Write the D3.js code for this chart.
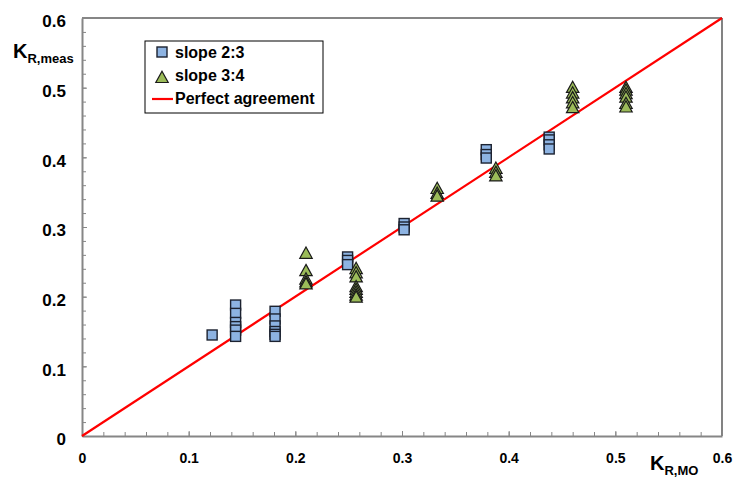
<!DOCTYPE html>
<html>
<head>
<meta charset="utf-8">
<script src="https://cdn.jsdelivr.net/npm/d3@7"></script>
<style>
    body { margin: 0; background: #fff; }
    svg { font-family: "Liberation Sans", Arial, sans-serif; font-weight: bold; }
</style>
</head>
<body>
<svg id="chart"></svg>
<script>
// slope 2:3 (squares)
const slope23X = [0.122,
    0.144, 0.144, 0.144, 0.144, 0.144, 0.144,
    0.181, 0.181, 0.181, 0.181, 0.181, 0.181,
    0.249, 0.249, 0.249,
    0.302, 0.302, 0.302,
    0.379, 0.379, 0.379,
    0.438, 0.438, 0.438, 0.438];
const slope23Y = [0.145,
    0.188, 0.176, 0.163, 0.157, 0.152, 0.143,
    0.179, 0.168, 0.158, 0.150, 0.146, 0.143,
    0.257, 0.252, 0.246,
    0.305, 0.300, 0.296,
    0.411, 0.404, 0.399,
    0.429, 0.425, 0.418, 0.412];

// slope 3:4 (triangles)
const slope34X = [0.21, 0.21, 0.21, 0.21, 0.21,
    0.257, 0.257, 0.257, 0.257, 0.257, 0.257, 0.257, 0.257,
    0.333, 0.333, 0.333,
    0.388, 0.388, 0.388,
    0.46, 0.46, 0.46, 0.46, 0.46,
    0.51, 0.51, 0.51, 0.51, 0.51, 0.51];
const slope34Y = [0.263, 0.238, 0.226, 0.222, 0.219,
    0.241, 0.235, 0.229, 0.215, 0.211, 0.207, 0.203, 0.200,
    0.356, 0.349, 0.345,
    0.385, 0.379, 0.374,
    0.501, 0.493, 0.486, 0.479, 0.472,
    0.501, 0.497, 0.492, 0.487, 0.478, 0.473];

// perfect agreement line
const lineX = [0, 0.6];
const lineY = [0, 0.6];

const tickValues = [0, 0.1, 0.2, 0.3, 0.4, 0.5, 0.6];
const tickLabels = ["0", "0.1", "0.2", "0.3", "0.4", "0.5", "0.6"];
const legendLabels = ["slope 2:3", "slope 3:4", "Perfect agreement"];

class Scatter {
    margin = {
        top: 18, right: 13, bottom: 41, left: 82
    }

    constructor(svg, width = 735, height = 477) {
        this.svg = svg;
        this.width = width - this.margin.left - this.margin.right;
        this.height = height - this.margin.top - this.margin.bottom;
    }

    initialize() {
        this.svg = d3.select(this.svg)
            .attr("width", this.width + this.margin.left + this.margin.right)
            .attr("height", this.height + this.margin.top + this.margin.bottom);

        this.container = this.svg.append("g")
            .attr("transform", `translate(${this.margin.left}, ${this.margin.top})`);

        this.xScale = d3.scaleLinear().domain([0, 0.6]).range([0, this.width]);
        this.yScale = d3.scaleLinear().domain([0, 0.6]).range([this.height, 0]);
    }

    drawAxes() {
        const g = this.container;
        const minor = d3.range(0, 0.6001, 0.02);

        // frame: top gray, right dark
        g.append("line")
            .attr("x1", 0).attr("x2", this.width).attr("y1", 0).attr("y2", 0)
            .attr("stroke", "#868686").attr("stroke-width", 2);
        g.append("line")
            .attr("x1", this.width).attr("x2", this.width).attr("y1", 0).attr("y2", this.height)
            .attr("stroke", "#404040").attr("stroke-width", 1.3);

        // minor ticks
        g.append("g")
            .call(d3.axisLeft(this.yScale).tickValues(minor).tickSizeInner(-4).tickSizeOuter(0).tickFormat(""))
            .call(a => a.select(".domain").remove())
            .selectAll("line").attr("stroke", "#868686");
        g.append("g")
            .attr("transform", `translate(0, ${this.height})`)
            .call(d3.axisBottom(this.xScale).tickValues(minor).tickSizeInner(-4).tickSizeOuter(0).tickFormat(""))
            .call(a => a.select(".domain").remove())
            .selectAll("line").attr("stroke", "#868686");

        // major ticks + labels
        const yAxis = g.append("g")
            .call(d3.axisLeft(this.yScale).tickValues(tickValues).tickSizeInner(-5).tickSizeOuter(0)
                .tickPadding(16).tickFormat((d, i) => tickLabels[i]));
        yAxis.select(".domain").attr("stroke", "#868686").attr("stroke-width", 2);
        yAxis.selectAll("line").attr("stroke", "#868686");
        yAxis.selectAll("text")
            .attr("font-size", 17).attr("font-weight", "bold").attr("fill", "#000")
            .attr("font-family", "Liberation Sans, Arial, sans-serif")
            .attr("dy", "0.52em");

        const xAxis = g.append("g")
            .attr("transform", `translate(0, ${this.height})`)
            .call(d3.axisBottom(this.xScale).tickValues(tickValues).tickSizeInner(-5).tickSizeOuter(0)
                .tickPadding(17.5).tickFormat((d, i) => tickLabels[i]));
        xAxis.select(".domain").attr("stroke", "#868686").attr("stroke-width", 2);
        xAxis.selectAll("line").attr("stroke", "#868686");
        xAxis.selectAll("text")
            .attr("font-size", 14).attr("font-weight", "bold").attr("fill", "#000")
            .attr("font-family", "Liberation Sans, Arial, sans-serif");

        // axis titles
        const yt = this.svg.append("text").attr("x", 13).attr("y", 58).attr("font-size", 20);
        yt.append("tspan").text("K");
        yt.append("tspan").attr("font-size", 13).attr("dy", 5).text("R,meas");

        const xt = this.svg.append("text").attr("x", 650).attr("y", 470).attr("font-size", 20);
        xt.append("tspan").text("K");
        xt.append("tspan").attr("font-size", 13).attr("dy", 5).text("R,MO");
    }

    update() {
        const x = this.xScale, y = this.yScale;

        this.drawAxes();

        this.container.append("path")
            .datum(lineX.map((d, i) => [d, lineY[i]]))
            .attr("d", d3.line().x(d => x(d[0])).y(d => y(d[1])))
            .attr("fill", "none")
            .attr("stroke", "#ff0000")
            .attr("stroke-width", 2.2);

        const sq = 10;
        this.container.selectAll("rect.sq")
            .data(slope23X.map((d, i) => [d, slope23Y[i]]))
            .join("rect")
            .attr("class", "sq")
            .attr("x", d => x(d[0]) - sq / 2)
            .attr("y", d => y(d[1]) - sq / 2)
            .attr("width", sq)
            .attr("height", sq)
            .attr("fill", "#8db3e2")
            .attr("stroke", "#1c2230")
            .attr("stroke-width", 1.4);

        const tri = "M0,-5.8L6.2,5.5L-6.2,5.5Z";
        this.container.selectAll("path.tri")
            .data(slope34X.map((d, i) => [d, slope34Y[i]]))
            .join("path")
            .attr("class", "tri")
            .attr("d", tri)
            .attr("transform", d => `translate(${x(d[0])}, ${y(d[1])})`)
            .attr("fill", "#9bbb59")
            .attr("stroke", "#1a1a1a")
            .attr("stroke-width", 1.2);

        // legend
        const lg = this.svg.append("g").attr("transform", "translate(145, 41)");
        lg.append("rect")
            .attr("width", 178).attr("height", 72)
            .attr("fill", "#fff").attr("stroke", "#000").attr("stroke-width", 1);
        lg.append("rect")
            .attr("x", 12).attr("y", 6).attr("width", 10).attr("height", 10)
            .attr("fill", "#8db3e2").attr("stroke", "#1c2230").attr("stroke-width", 1.4);
        lg.append("path")
            .attr("d", tri).attr("transform", "translate(17, 36)")
            .attr("fill", "#9bbb59").attr("stroke", "#1a1a1a").attr("stroke-width", 1.2);
        lg.append("line")
            .attr("x1", 7).attr("x2", 28).attr("y1", 58).attr("y2", 58)
            .attr("stroke", "#ff0000").attr("stroke-width", 2.2);
        lg.selectAll("text")
            .data(legendLabels)
            .join("text")
            .attr("x", 30)
            .attr("y", (d, i) => 17 + i * 23)
            .attr("font-size", 16)
            .text(d => d);
    }
}

const chart = new Scatter(document.getElementById("chart"));
chart.initialize();
chart.update();
</script>
</body>
</html>
